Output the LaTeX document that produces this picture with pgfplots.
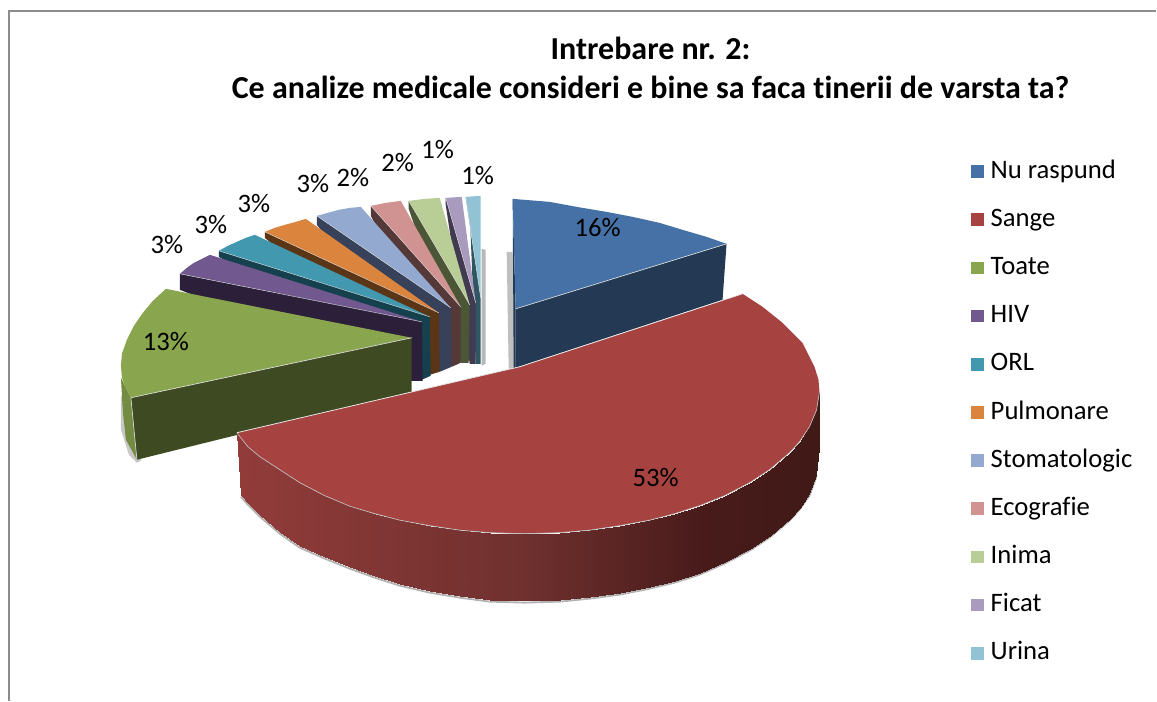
\documentclass[border=0pt]{standalone}
\usepackage{pgfplots}
\pgfplotsset{compat=1.18}
\usepackage{fontspec}
\setmainfont[Ligatures={NoCommon,TeX}]{Carlito}
\definecolor{cA}{HTML}{4671A6}\definecolor{sA}{HTML}{233954}
\definecolor{cB}{HTML}{A64341}
\definecolor{cC}{HTML}{89A54E}\definecolor{sC}{HTML}{3D4A22}
\definecolor{cD}{HTML}{71588F}\definecolor{sD}{HTML}{2B1F3A}
\definecolor{cE}{HTML}{4198AF}\definecolor{sE}{HTML}{15404D}
\definecolor{cF}{HTML}{DB843D}\definecolor{sF}{HTML}{5A3516}
\definecolor{cG}{HTML}{93A9CF}\definecolor{sG}{HTML}{37415A}
\definecolor{cH}{HTML}{D19392}\definecolor{sH}{HTML}{553838}
\definecolor{cI}{HTML}{B9CD96}\definecolor{sI}{HTML}{4B5637}
\definecolor{cJ}{HTML}{A99BBD}\definecolor{sJ}{HTML}{413A50}
\definecolor{cK}{HTML}{92C3D4}\definecolor{sK}{HTML}{2F5763}
\pgfplotstableread{
x y c
237 433 237
248 447 248
260 457 260
280 470 280
300 483 300
325 496 325
350 506.5 350
375 514 375
400 520.5 400
430 526 430
460 530.5 460
490 533 490
525 534 525
560 533 560
590 530.5 590
620 526 620
650 520.5 650
675 514 675
700 506 700
725 496 725
750 483 750
770 470 770
790 453 790
800 442 800
810 427 810
817 410.5 817
820 392 820
241 495 237
248 503 248
260 515 260
280 532 280
300 546 300
325 557 325
350 567 350
375 576 375
400 584 400
430 591 430
460 596 460
490 600 490
525 601 525
560 600 560
590 597 590
620 593 620
650 587 650
675 581 675
700 573 700
725 562 725
750 549 750
770 536 770
790 519 790
800 508 800
810 494 810
817 475 817
820 448 820
}\redside
\begin{document}
\begin{tikzpicture}
\begin{axis}[
  scale only axis, width=867.75pt, height=525.75pt,
  xmin=0, xmax=1157, ymin=0, ymax=701, y dir=reverse,
  hide axis, clip=false,
  colormap={redside}{rgb255(0cm)=(146,60,58); rgb255(5cm)=(110,48,46); rgb255(8cm)=(72,27,26); rgb255(10cm)=(64,26,23)},
  legend style={at={(axis cs:972,159)}, anchor=north west, draw=none, fill=none,
    font=\fontsize{20}{22}\selectfont, row sep=17.15pt, inner sep=0pt, outer sep=0pt,
    nodes={inner sep=0pt, text height=14.5pt, text depth=4.5pt},
    /tikz/every odd column/.append style={column sep=5pt}},
  legend cell align=left,
  legend image code/.code={\fill[draw=none,#1] (0pt,-4.75pt) rectangle (9.5pt,4.75pt);},
]
\path (axis cs:0,0) rectangle (axis cs:1157,701);
\addlegendimage{fill=cA,draw=none}\addlegendentry{Nu raspund}
\addlegendimage{fill=cB,draw=none}\addlegendentry{Sange}
\addlegendimage{fill=cC,draw=none}\addlegendentry{Toate}
\addlegendimage{fill=cD,draw=none}\addlegendentry{HIV}
\addlegendimage{fill=cE,draw=none}\addlegendentry{ORL}
\addlegendimage{fill=cF,draw=none}\addlegendentry{Pulmonare}
\addlegendimage{fill=cG,draw=none}\addlegendentry{Stomatologic}
\addlegendimage{fill=cH,draw=none}\addlegendentry{Ecografie}
\addlegendimage{fill=cI,draw=none}\addlegendentry{Inima}
\addlegendimage{fill=cJ,draw=none}\addlegendentry{Ficat}
\addlegendimage{fill=cK,draw=none}\addlegendentry{Urina}
% frame
\addplot[forget plot, color=black!45, line width=1.1pt] coordinates {(9,701)(9,11)(1157,11)};
% shadows
\addplot[forget plot, fill=black!28, draw=none] coordinates {(482,249)(486,250)(486,364)(482,366)} -- cycle;
\addplot[forget plot, fill=black!25, draw=none] coordinates {(507,252)(513,252)(516,368)(509,369)} -- cycle;
\addplot[forget plot, fill=black!22, draw=none] coordinates {(121,395)(121,430)(129,455)(137,463)(141,461)} -- cycle;
% Urina
\addplot[forget plot, fill=sK, draw=none] coordinates {(466,197)(481,298)(481,364)(476,364)(470,210)} -- cycle;
\addplot[forget plot, fill=cK, draw=none] coordinates {(466,197)(473,196.5)(481,196)(481,298)} -- cycle;
\addplot[forget plot, color=white!85!black, line width=0.3pt] coordinates {(466,197)(481,298)};
% Ficat
\addplot[forget plot, fill=sJ, draw=none] coordinates {(446,198)(476,303)(476,364)(470,364)(446,205)} -- cycle;
\addplot[forget plot, fill=cJ, draw=none] coordinates {(446,198)(454,197.5)(462,197)(476,303)} -- cycle;
\addplot[forget plot, color=white!85!black, line width=0.3pt] coordinates {(446,198)(476,303)};
% Inima
\addplot[forget plot, fill=sI, draw=none] coordinates {(409,201)(470,305)(469,363)(461,363)(409,209)} -- cycle;
\addplot[forget plot, fill=cI, draw=none] coordinates {(409,201)(425,199)(440,198)(470,305)} -- cycle;
\addplot[forget plot, color=white!85!black, line width=0.3pt] coordinates {(409,201)(470,305)};
% Ecografie
\addplot[forget plot, fill=sH, draw=none] coordinates {(371,206)(461,307)(461,363)(452,367)(371,216)} -- cycle;
\addplot[forget plot, fill=cH, draw=none] coordinates {(371,206)(386,203)(401,201)(461,307)} -- cycle;
\addplot[forget plot, color=white!85!black, line width=0.3pt] coordinates {(371,206)(461,307)};
% Stomatologic
\addplot[forget plot, fill=sG, draw=none] coordinates {(317,216)(451,308)(452,367)(440,372)(317,225)} -- cycle;
\addplot[forget plot, fill=cG, draw=none] coordinates {(317,216)(328,213)(339,210)(350,208)(361,207)(451,308)} -- cycle;
\addplot[forget plot, color=white!85!black, line width=0.3pt] coordinates {(317,216)(451,308)};
% Pulmonare
\addplot[forget plot, fill=sF, draw=none] coordinates {(265,232)(439,313)(440,372)(430,375)(265,238)} -- cycle;
\addplot[forget plot, fill=cF, draw=none] coordinates {(265,232)(275,228)(285,225)(296,222)(306,219)(439,313)} -- cycle;
\addplot[forget plot, color=white!85!black, line width=0.3pt] coordinates {(265,232)(439,313)};
% ORL
\addplot[forget plot, fill=sE, draw=none] coordinates {(219,251)(430,317)(431,376)(422,380)(219,257)} -- cycle;
\addplot[forget plot, fill=cE, draw=none] coordinates {(219,251)(228,246)(237,242)(246,238)(255,235)(430,317)} -- cycle;
\addplot[forget plot, color=white!85!black, line width=0.3pt] coordinates {(219,251)(430,317)};
% HIV
\addplot[forget plot, fill=sD, draw=none] coordinates {(180,274)(422,322)(423,381)(412,381)(180,290)} -- cycle;
\addplot[forget plot, fill=cD, draw=none] coordinates {(180,274)(187,268)(194,263)(202,259)(210,255)(422,322)} -- cycle;
\addplot[forget plot, color=white!85!black, line width=0.3pt] coordinates {(180,274)(422,322)};
% Toate
\addplot[forget plot, fill=cC!85!black, draw=none] coordinates {(121,378)(131,398)(137,460)(126,440)(123,413)} -- cycle;
\addplot[forget plot, fill=sC, draw=none] coordinates {(131,398)(412,338)(412,392)(137,460)} -- cycle;
\addplot[forget plot, fill=cC, draw=none] coordinates {(166,289)(153,301)(143,313)(134,326)(127,340)(122,354)(121,366)(122,378)(126,389)(131,398)(412,338)} -- cycle;
\addplot[forget plot, color=white!85!black, line width=0.5pt] coordinates {(131,398)(412,338)};
\addplot[forget plot, color=white!85!black, line width=0.5pt] coordinates {(131,398)(137,460)};
% Nu raspund
\addplot[forget plot, fill=sA, draw=none] coordinates {(513,199)(516,309)(516,368)(514,368)} -- cycle;
\addplot[forget plot, fill=sA, draw=none] coordinates {(516,309)(727,244)(723,300)(516,368)} -- cycle;
\addplot[forget plot, fill=cA, draw=none] coordinates {(513,199)(550,202)(577,207)(607,212)(633,217)(660,223)(683,230)(707,237)(727,244)(516,309)} -- cycle;
\addplot[forget plot, color=white!85!black, line width=0.5pt] coordinates {(516,309)(727,244)};
% Sange
\addplot[forget plot, color=black!30, line width=1.4pt] coordinates {(241,497)(248,505)(260,517)(280,534)(300,548)(325,559)(350,569)(375,578)(400,586)(430,593)(460,598)(490,602)(525,603)(560,602)(590,599)(620,595)(650,589)(675,583)(700,575)(725,564)(750,551)(770,538)(790,521)(800,510)(810,496)(817,477)};
\addplot[forget plot, surf, shader=interp, mesh/rows=2, mesh/cols=27, point meta=explicit] table[x=x,y=y,meta=c] {\redside};
\addplot[forget plot, fill=cB, draw=none] coordinates {(237,433)(248,447)(260,457)(280,470)(300,483)(325,496)(350,506.5)(375,514)(400,520.5)(430,526)(460,530.5)(490,533)(525,534)(560,533)(590,530.5)(620,526)(650,520.5)(675,514)(700,506)(725,496)(750,483)(770,470)(790,453)(800,442)(810,427)(817,410.5)(820,392)(819,380)(815,367)(803,343)(783,323)(763,307)(743,294)(520,367)} -- cycle;
\addplot[forget plot, color=white!75!black, line width=0.5pt] coordinates {(237,433)(248,447)(260,457)(280,470)(300,483)(325,496)(350,506.5)(375,514)(400,520.5)(430,526)(460,530.5)(490,533)(525,534)(560,533)(590,530.5)(620,526)(650,520.5)(675,514)(700,506)(725,496)(750,483)(770,470)(790,453)(800,442)(810,427)(817,410.5)(820,392)};
\addplot[forget plot, color=white!90!black, line width=0.6pt] coordinates {(237,433)(520,367)(743,294)};
% labels
\node[font=\fontsize{20}{22}\selectfont] at (axis cs:598,228) {16\%};
\node[font=\fontsize{20}{22}\selectfont] at (axis cs:656,478) {53\%};
\node[font=\fontsize{20}{22}\selectfont] at (axis cs:166,342) {13\%};
\node[font=\fontsize{20}{22}\selectfont] at (axis cs:167,245) {3\%};
\node[font=\fontsize{20}{22}\selectfont] at (axis cs:211,225) {3\%};
\node[font=\fontsize{20}{22}\selectfont] at (axis cs:254,204) {3\%};
\node[font=\fontsize{20}{22}\selectfont] at (axis cs:313,184) {3\%};
\node[font=\fontsize{20}{22}\selectfont] at (axis cs:353,178) {2\%};
\node[font=\fontsize{20}{22}\selectfont] at (axis cs:398,163) {2\%};
\node[font=\fontsize{20}{22}\selectfont] at (axis cs:438,150) {1\%};
\node[font=\fontsize{20}{22}\selectfont] at (axis cs:478,176) {1\%};
% title
\node[font=\fontsize{24}{29}\selectfont\bfseries, align=center] at (axis cs:651,68) {Intrebare nr. 2:\\Ce analize medicale consideri e bine sa faca tinerii de varsta ta?};
\end{axis}
\end{tikzpicture}
\end{document}
